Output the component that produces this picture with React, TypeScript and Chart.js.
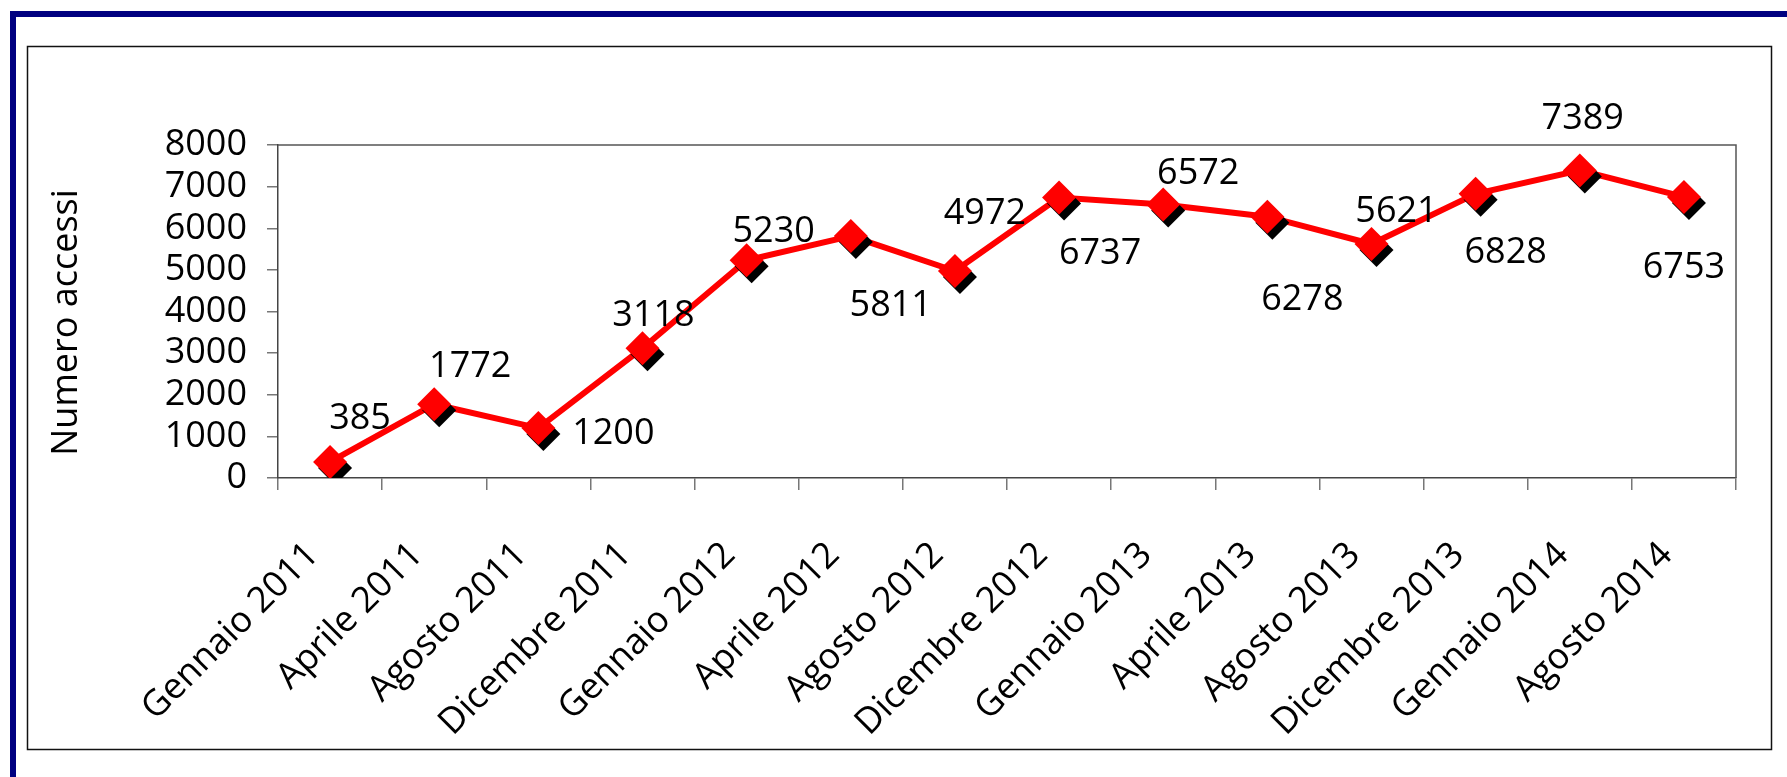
import React, { useEffect, useRef } from 'react';
import { Chart, registerables } from 'chart.js';

Chart.register(...registerables);

const categories: string[] = [
  'Gennaio 2011', 'Aprile 2011', 'Agosto 2011', 'Dicembre 2011',
  'Gennaio 2012', 'Aprile 2012', 'Agosto 2012', 'Dicembre 2012',
  'Gennaio 2013', 'Aprile 2013', 'Agosto 2013', 'Dicembre 2013',
  'Gennaio 2014', 'Agosto 2014',
];

const accessi: number[] = [385, 1772, 1200, 3118, 5230, 5811, 4972, 6737, 6572, 6278, 5621, 6828, 7389, 6753];

const yTickValues: number[] = [0, 1000, 2000, 3000, 4000, 5000, 6000, 7000, 8000];

const yTitle = 'Numero accessi';

// label placement relative to each marker (styling only)
const labelOffsets: [number, number][] = [
  [30, -46], [36, -40], [75, 3], [11, -35], [27, -31], [40, 67], [30, -60],
  [41, 53], [35, -33], [35, 80], [25, -35], [30, 56], [3, -54], [0, 68],
];

const FONT = '"Open Sans", "Noto Sans", sans-serif';
const FS = 36;

const framePlugin = {
  id: 'frame',
  beforeDraw(chart: any) {
    const ctx = chart.ctx;
    ctx.save();
    ctx.fillStyle = '#ffffff';
    ctx.fillRect(0, 0, chart.width, chart.height);
    ctx.fillStyle = '#000080';
    ctx.fillRect(10, 11, chart.width - 10, 6);
    ctx.fillRect(10, 11, 6, chart.height - 11);
    ctx.strokeStyle = '#111';
    ctx.lineWidth = 1.5;
    ctx.strokeRect(27.5, 46.5, 1744, 703);
    ctx.restore();
  },
  beforeDatasetsDraw(chart: any) {
    const { ctx, chartArea } = chart;
    ctx.save();
    ctx.strokeStyle = '#555';
    ctx.lineWidth = 1.5;
    ctx.beginPath();
    ctx.moveTo(chartArea.left, chartArea.top);
    ctx.lineTo(chartArea.right, chartArea.top);
    ctx.lineTo(chartArea.right, chartArea.bottom);
    ctx.stroke();
    ctx.restore();
  },
  afterDraw(chart: any) {
    const ctx = chart.ctx;
    const { chartArea } = chart;
    ctx.save();
    ctx.font = `${FS}px ${FONT}`;
    ctx.fillStyle = '#000';
    ctx.textAlign = 'center';
    ctx.textBaseline = 'alphabetic';
    ctx.translate(77, (chartArea.top + chartArea.bottom) / 2 + 11);
    ctx.rotate(-Math.PI / 2);
    ctx.fillText(yTitle, 0, 0);
    ctx.restore();
  },
};

const shadowPlugin = {
  id: 'markerShadow',
  beforeDatasetDraw(chart: any, args: any) {
    if (args.index === 1) {
      const ctx = chart.ctx;
      ctx.save();
      ctx.shadowColor = '#000';
      ctx.shadowOffsetX = 5;
      ctx.shadowOffsetY = 6;
      ctx.shadowBlur = 0;
    }
  },
  afterDatasetDraw(chart: any, args: any) {
    if (args.index === 1) chart.ctx.restore();
  },
};

const labelPlugin = {
  id: 'valueLabels',
  afterDatasetsDraw(chart: any) {
    const ctx = chart.ctx;
    const meta = chart.getDatasetMeta(1);
    ctx.save();
    ctx.font = `${FS}px ${FONT}`;
    ctx.fillStyle = '#000';
    ctx.textAlign = 'center';
    ctx.textBaseline = 'alphabetic';
    meta.data.forEach((el: any, i: number) => {
      const [dx, dy] = labelOffsets[i];
      ctx.fillText(String(accessi[i]), el.x + dx, el.y + dy + 13);
    });
    ctx.restore();
  },
};

export default function App() {
  const ref = useRef<HTMLCanvasElement | null>(null);

  useEffect(() => {
    document.body.style.margin = '0';
    const canvas = ref.current;
    if (!canvas) return;
    const chart = new Chart(canvas, {
      type: 'line',
      data: {
        labels: categories,
        datasets: [
          {
            label: 'line',
            data: accessi,
            borderColor: '#ff0000',
            borderWidth: 6,
            pointRadius: 0,
            pointHoverRadius: 0,
            tension: 0,
            fill: false,
            order: 2,
          },
          {
            label: 'markers',
            data: accessi,
            showLine: false,
            pointStyle: 'rectRot',
            pointRadius: 17,
            pointHoverRadius: 17,
            pointBackgroundColor: '#ff0000',
            pointBorderWidth: 0,
            borderWidth: 0,
            order: 1,
          },
        ],
      },
      options: {
        responsive: false,
        animation: false,
        events: [],
        layout: { padding: { left: 30, top: 145, right: 51, bottom: 39 } },
        plugins: {
          legend: { display: false },
          tooltip: { enabled: false },
        },
        scales: {
          x: {
            offset: true,
            afterFit(scale: any) { scale.height = 260; },
            grid: {
              offset: true,
              drawOnChartArea: false,
              drawTicks: true,
              tickLength: 12,
              color: '#777',
              lineWidth: 1.5,
            },
            border: { display: true, color: '#444', width: 1.5 },
            ticks: {
              autoSkip: false,
              minRotation: 45,
              maxRotation: 45,
              padding: 44,
              labelOffset: -17,
              color: '#000',
              font: { family: FONT, size: FS, lineHeight: 1.2 },
            },
          },
          y: {
            min: 0,
            max: 8000,
            afterFit(scale: any) { scale.width = 248; },
            afterBuildTicks(scale: any) { scale.ticks = yTickValues.map((v) => ({ value: v })); },
            grid: {
              drawOnChartArea: false,
              drawTicks: true,
              tickLength: 11,
              color: '#777',
              lineWidth: 1.5,
            },
            border: { display: true, color: '#444', width: 1.5 },
            ticks: {
              autoSkip: false,
              padding: 20,
              color: '#000',
              font: { family: FONT, size: FS, lineHeight: 1 },
              callback: (v: any) => String(v),
            },
            title: { display: false },
          },
        },
      },
      plugins: [framePlugin, shadowPlugin, labelPlugin],
    });
    return () => chart.destroy();
  }, []);

  return (
    <div style={{ width: 1787, height: 777, position: 'relative' }}>
      <canvas ref={ref} width={1787} height={777} style={{ display: 'block', width: 1787, height: 777 }} />
    </div>
  );
}
